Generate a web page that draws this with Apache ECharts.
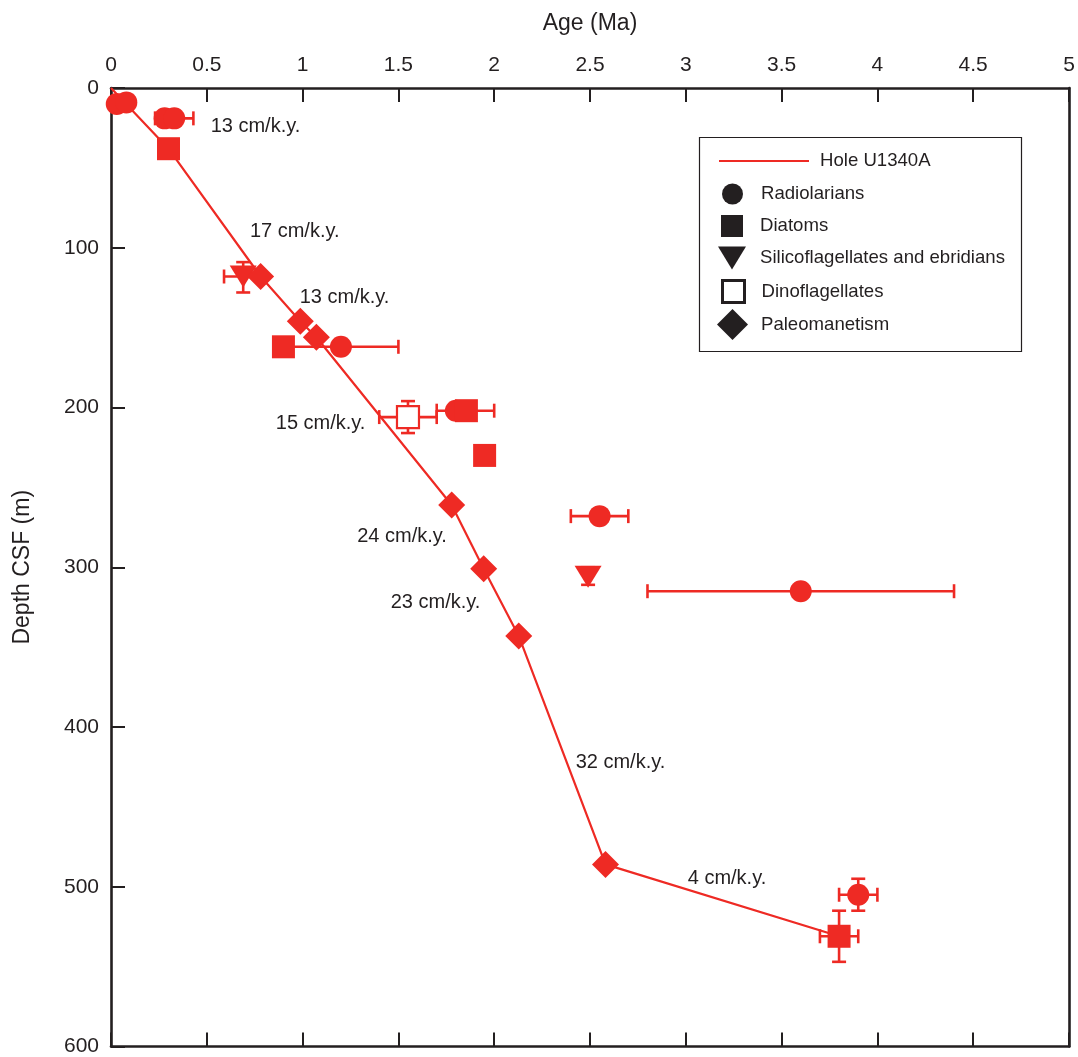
<!DOCTYPE html>
<html>
<head>
<meta charset="utf-8">
<title>Hole U1340A age–depth plot</title>
<script src="https://cdn.jsdelivr.net/npm/echarts@6/dist/echarts.min.js"></script>
<style>
  html, body { margin: 0; padding: 0; background: #fff; }
  #chart { width: 1078px; height: 1057px; }
</style>
</head>
<body>
<div id="chart"></div>
<script>
// ---- Data -------------------------------------------------------------
// Age–depth model of Hole U1340A: [age (Ma), depth CSF (m)]
const ageModel = [
  [0, 0], [0.30, 38], [0.781, 118], [0.988, 146], [1.072, 156],
  [1.778, 261], [1.945, 301], [2.128, 343], [2.581, 486], [3.80, 531]
];

// Datums by group: [age (Ma), depth CSF (m)]
const radiolarians = [
  [0.03, 10], [0.08, 9], [0.28, 19], [0.33, 19], [1.20, 162],
  [1.80, 202], [2.55, 268], [3.60, 315], [3.90, 505]
];
const diatoms = [[0.30, 38], [0.90, 162], [1.855, 202], [1.95, 230], [3.80, 531]];
const silicoflagellates = [[0.69, 118], [2.49, 306]];
const dinoflagellates = [[1.55, 206]];
const paleomagnetism = [
  [0.781, 118], [0.988, 146], [1.072, 156], [1.778, 261],
  [1.945, 301], [2.128, 343], [2.581, 486]
];

// Age uncertainty: [age, depth, youngest age, oldest age]
const ageErrors = [
  [0.33, 19, 0.23, 0.43],
  [0.69, 118, 0.59, 0.79],
  [1.20, 162, 0.90, 1.50],
  [1.55, 206, 1.40, 1.70],
  [1.855, 202, 1.70, 2.00],
  [2.55, 268, 2.40, 2.70],
  [3.60, 315, 2.80, 4.40],
  [3.90, 505, 3.80, 4.00],
  [3.80, 531, 3.70, 3.90]
];
// Depth uncertainty: [age, depth, top depth, bottom depth]
const depthErrors = [
  [0.69, 118, 109, 128],
  [1.55, 206, 196, 216],
  [2.49, 306, 300, 311],
  [3.90, 505, 495, 515],
  [3.80, 531, 515, 547]
];

// Sedimentation-rate annotations: [age, depth, text]
const rateLabels = [
  [0.52, 24, '13 cm/k.y.'],
  [0.725, 90, '17 cm/k.y.'],
  [0.985, 131, '13 cm/k.y.'],
  [0.86, 210, '15 cm/k.y.'],
  [1.285, 281, '24 cm/k.y.'],
  [1.46, 322, '23 cm/k.y.'],
  [2.425, 422, '32 cm/k.y.'],
  [3.01, 495, '4 cm/k.y.']
];

// Axis ticks
const ageTicks = [0, 0.5, 1, 1.5, 2, 2.5, 3, 3.5, 4, 4.5, 5];
const depthTicks = [0, 100, 200, 300, 400, 500, 600];

// ---- Styling ----------------------------------------------------------
const RED = '#ee2a24';
const INK = '#231f20';
const FONT = '"Liberation Sans", Arial, Helvetica, sans-serif';
const DOWN_TRIANGLE = 'path://M0,0 L28,0 L14,23 Z';

const chart = echarts.init(document.getElementById('chart'), null, { renderer: 'canvas' });

function errorBarSeries(name, data, horizontal) {
  return {
    type: 'custom',
    name: name,
    silent: true,
    z: 3,
    data: data,
    renderItem: function (params, api) {
      const cap = 7;
      const style = { stroke: RED, lineWidth: 2.6 };
      let a, b;
      if (horizontal) {
        a = api.coord([api.value(2), api.value(1)]);
        b = api.coord([api.value(3), api.value(1)]);
      } else {
        a = api.coord([api.value(0), api.value(2)]);
        b = api.coord([api.value(0), api.value(3)]);
      }
      const children = [
        { type: 'line', shape: { x1: a[0], y1: a[1], x2: b[0], y2: b[1] }, style: style }
      ];
      [a, b].forEach(function (p) {
        children.push(horizontal
          ? { type: 'line', shape: { x1: p[0], y1: p[1] - cap, x2: p[0], y2: p[1] + cap }, style: style }
          : { type: 'line', shape: { x1: p[0] - cap, y1: p[1], x2: p[0] + cap, y2: p[1] }, style: style });
      });
      return { type: 'group', children: children };
    }
  };
}

function datumSeries(name, data, symbol, size, extra) {
  return Object.assign({
    type: 'scatter',
    name: name,
    data: data,
    symbol: symbol,
    symbolSize: size,
    silent: true,
    z: 4,
    itemStyle: { color: RED, opacity: 1 }
  }, extra || {});
}

// One legend block per entry so each key symbol keeps its own size
const legendRows = [
  { name: 'Hole U1340A', w: 90, h: 14, y: 161, left: 718, pad: 6 },
  { name: 'Radiolarians', w: 21, h: 21, y: 194 },
  { name: 'Diatoms', w: 22, h: 22, y: 226 },
  { name: 'Silicoflagellates and ebridians', w: 28, h: 23, y: 258, icon: DOWN_TRIANGLE },
  { name: 'Dinoflagellates', w: 22, h: 22, y: 291 },
  { name: 'Paleomanetism', w: 31, h: 31, y: 324 }
];
const legendKeyStyle = {
  'Hole U1340A': { color: 'rgba(0,0,0,0)', opacity: 0 },
  'Radiolarians': { color: INK },
  'Diatoms': { color: INK },
  'Silicoflagellates and ebridians': { color: INK },
  'Dinoflagellates': { color: '#fff', borderColor: INK, borderWidth: 3 },
  'Paleomanetism': { color: INK }
};
const legends = legendRows.map(function (r) {
  const boxH = Math.max(r.h, 24);
  const left = r.left !== undefined ? r.left : Math.round(732 - r.w / 2);
  const pad = r.pad !== undefined ? r.pad : Math.round(23 - r.w / 2);
  const item = { name: r.name, itemStyle: legendKeyStyle[r.name] };
  if (r.icon) item.icon = r.icon;
  return {
    left: left,
    top: Math.round(r.y - boxH / 2),
    orient: 'vertical',
    selectedMode: false,
    itemWidth: r.w,
    itemHeight: r.h,
    padding: 0,
    data: [item],
    textStyle: { fontFamily: FONT, fontSize: 18.6, color: INK, lineHeight: 24, padding: [0, 0, 0, pad] }
  };
});

const axisLineStyle = { color: INK, width: 2.6 };
const tickStyle = { color: INK, width: 2 };
const tickLabel = { show: true, fontFamily: FONT, fontSize: 21, color: INK, margin: 12 };
const axisName = { fontFamily: FONT, fontSize: 23, color: INK };

const option = {
  animation: false,
  backgroundColor: '#fff',
  textStyle: { fontFamily: FONT, color: INK },
  grid: { left: 111, right: 9, top: 88, bottom: 9, containLabel: false },
  legend: legends,
  graphic: [{
    type: 'rect',
    shape: { x: 699.5, y: 137.5, width: 322, height: 214 },
    style: { fill: 'none', stroke: INK, lineWidth: 1.2 },
    z: 10
  }],
  xAxis: [{
    type: 'value',
    position: 'top',
    min: ageTicks[0],
    max: ageTicks[ageTicks.length - 1],
    interval: ageTicks[1] - ageTicks[0],
    name: 'Age (Ma)',
    nameLocation: 'middle',
    nameGap: 53,
    nameTextStyle: axisName,
    axisLine: { show: true, onZero: false, lineStyle: axisLineStyle },
    axisTick: { show: true, inside: true, length: 14, lineStyle: tickStyle },
    axisLabel: tickLabel,
    splitLine: { show: false }
  }, {
    type: 'value',
    position: 'bottom',
    min: ageTicks[0],
    max: ageTicks[ageTicks.length - 1],
    interval: ageTicks[1] - ageTicks[0],
    axisLine: { show: true, onZero: false, lineStyle: axisLineStyle },
    axisTick: { show: true, inside: true, length: 14, lineStyle: tickStyle },
    axisLabel: { show: false },
    splitLine: { show: false }
  }],
  yAxis: [{
    type: 'value',
    position: 'left',
    inverse: true,
    min: depthTicks[0],
    max: depthTicks[depthTicks.length - 1],
    interval: depthTicks[1] - depthTicks[0],
    name: 'Depth CSF (m)',
    nameLocation: 'middle',
    nameGap: 77,
    nameTextStyle: axisName,
    axisLine: { show: true, onZero: false, lineStyle: axisLineStyle },
    axisTick: { show: true, inside: true, length: 14, lineStyle: tickStyle },
    axisLabel: tickLabel,
    splitLine: { show: false }
  }, {
    type: 'value',
    position: 'right',
    inverse: true,
    min: depthTicks[0],
    max: depthTicks[depthTicks.length - 1],
    interval: depthTicks[1] - depthTicks[0],
    axisLine: { show: true, onZero: false, lineStyle: axisLineStyle },
    axisTick: { show: false },
    axisLabel: { show: false },
    splitLine: { show: false }
  }],
  series: [
    {
      type: 'line',
      name: 'Hole U1340A',
      data: ageModel,
      symbol: 'none',
      showSymbol: false,
      silent: true,
      z: 2,
      lineStyle: { color: RED, width: 2.2 },
      itemStyle: { color: RED }
    },
    errorBarSeries('ageErrors', ageErrors, true),
    errorBarSeries('depthErrors', depthErrors, false),
    datumSeries('Radiolarians', radiolarians, 'circle', 22),
    datumSeries('Diatoms', diatoms, 'rect', 23),
    datumSeries('Silicoflagellates and ebridians', silicoflagellates, 'triangle', [27, 22], { symbolRotate: 180 }),
    datumSeries('Dinoflagellates', dinoflagellates, 'rect', 22, {
      itemStyle: { color: '#fff', borderColor: RED, borderWidth: 2.2, opacity: 1 }
    }),
    datumSeries('Paleomanetism', paleomagnetism, 'diamond', 27),
    {
      type: 'scatter',
      name: 'rates',
      silent: true,
      z: 5,
      symbolSize: 0,
      itemStyle: { opacity: 1 },
      data: rateLabels.map(function (d) { return { value: [d[0], d[1]], name: d[2] }; }),
      label: {
        show: true,
        position: 'right',
        distance: 0,
        formatter: '{b}',
        fontFamily: FONT,
        fontSize: 20,
        color: INK,
        opacity: 1
      }
    }
  ]
};

chart.setOption(option);
</script>
</body>
</html>
